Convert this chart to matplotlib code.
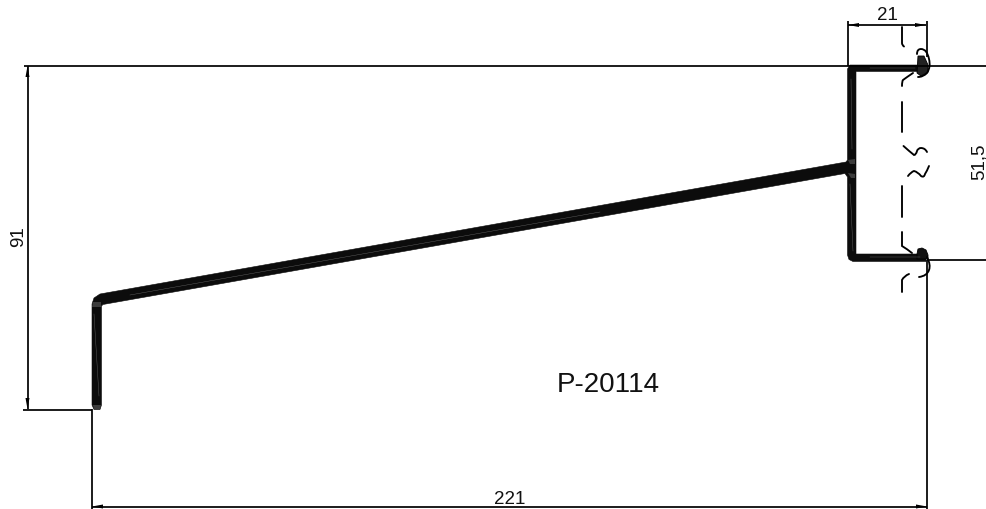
import matplotlib
matplotlib.use('Agg')
import matplotlib.pyplot as pl
from matplotlib.patches import PathPatch, Polygon
from matplotlib.path import Path

pl.rcParams['font.family'] = ['Liberation Sans', 'DejaVu Sans']

extension_lines = [
    ((24, 66.5), (987, 66.5)),
    ((23, 410.5), (92, 410.5)),
    ((91.5, 410), (91.5, 510)),
    ((927, 261), (987, 261)),
    ((927, 261), (927, 510)),
    ((847.5, 22), (847.5, 67)),
    ((926.5, 22), (926.5, 58)),
]
dimension_lines = [
    ((27.5, 67), (27.5, 410)),
    ((92, 507.5), (927, 507.5)),
    ((848, 26), (926, 26)),
]
labels = ['91', '51,5', '21', '221', 'P-20114']
label_x = [18.5, 979, 887, 510, 608]
label_y = [237, 162, 16, 499.5, 385.5]
label_size = [13.5, 13.5, 13.5, 13.5, 20]
label_rot = [90, 90, 0, 0, 0]

profile_outline = [
    (92, 406), (92, 305), (94, 299), (100, 295), (846, 163), (847.5, 161),
    (847.5, 70), (850, 66), (920, 66), (920, 72.5), (856, 72.5), (856, 160),
    (856, 178), (856, 255), (926, 255), (926, 262.5), (853, 262.5), (849, 260.5),
    (847.5, 256), (847.5, 178), (845, 174.5), (103, 305.5), (101.5, 307),
    (101.5, 406), (100, 410.5), (94, 410.5),
]
highlights = [
    [(94, 315), (99, 397)],
    [(850, 185), (853, 252)],
    [(851, 80), (852, 150)],
    [(130, 296), (600, 213)],
    [(870, 69), (915, 69)],
    [(870, 258), (920, 258)],
]
grey_patches = [
    [(93, 303), (101, 303), (101, 308), (92, 308)],
    [(93, 406), (101, 406), (100, 410), (94, 410)],
    [(848, 161), (855, 160), (855, 165), (850, 165)],
    [(848, 174), (855, 175), (855, 179), (851, 179)],
]

break_lines = [
    [(902, 28), (902, 40), (902, 44), (902, 46), (904, 47.5)],
    [(902, 87), (902, 82), (903, 81), (907, 78), (913, 74)],
    [(902, 103), (902, 133)],
    [(903.5, 147), (909, 152), (914, 156), (916, 156), (917, 152), (918, 149), (921, 149), (925, 149), (927, 153)],
    [(908, 177), (911, 173), (914, 172), (918, 173), (921, 177), (924, 179), (925, 175), (927, 172), (929, 167)],
    [(902, 187), (902, 218)],
    [(902, 233), (902, 245), (902, 247), (907, 250), (912, 254)],
    [(909, 275), (904, 277), (902, 281), (902, 286), (902, 293)],
    [(917, 55), (917, 50), (921, 50), (927, 50), (929, 60), (931, 68), (927, 74), (923, 78), (918, 78)],
    [(927, 258), (931, 266), (929, 271), (927, 277), (919, 278)],
]
bulb_top = [(918, 57), (924, 57), (928, 66), (928, 73), (921, 77), (917, 74)]
bulb_bottom = [(917, 255), (918, 250), (922, 249), (926, 251), (928, 256), (928, 260), (917, 260)]


def curve(points):
    # points go start, control, end, control, end ...
    codes = [Path.MOVETO] + [Path.CURVE3] * (len(points) - 1)
    if len(points) == 2:
        codes = [Path.MOVETO, Path.LINETO]
    return Path(points, codes)


def arrow_head(ax, tip, direction, length=11, half_width=2):
    # direction is a unit vector pointing into the dimension line
    dx, dy = direction
    base = (tip[0] + dx * length, tip[1] + dy * length)
    ax.add_patch(Polygon([tip,
                          (base[0] - dy * half_width, base[1] + dx * half_width),
                          (base[0] + dy * half_width, base[1] - dx * half_width)],
                         closed=True, fc='#000000', ec='none'))


fig = pl.figure(figsize=(9.87, 5.10), dpi=100)
ax = fig.add_axes([0, 0, 1, 1])
ax.set_xlim(0, 987)
ax.set_ylim(510, 0)
ax.axis('off')

for start, end in extension_lines:
    ax.plot([start[0], end[0]], [start[1], end[1]], c='#000000', lw=1.25,
            solid_capstyle='butt')

for start, end in dimension_lines:
    ax.plot([start[0], end[0]], [start[1], end[1]], c='#000000', lw=1.25,
            solid_capstyle='butt')
    if start[0] == end[0]:
        arrow_head(ax, start, (0, 1))
        arrow_head(ax, end, (0, -1))
    else:
        arrow_head(ax, start, (1, 0))
        arrow_head(ax, end, (-1, 0))

ax.add_patch(Polygon(profile_outline, closed=True, fc='#0c0c0c', ec='#0c0c0c',
                     lw=0.4, joinstyle='round'))
for patch in grey_patches:
    ax.add_patch(Polygon(patch, closed=True, fc='#3c3c3c', ec='none'))
for line in highlights:
    ax.plot([p[0] for p in line], [p[1] for p in line], c='#666666', lw=0.3)

ax.add_patch(Polygon(bulb_top, closed=True, fc='#222222', ec='#000000', lw=0.6))
ax.add_patch(Polygon(bulb_bottom, closed=True, fc='#111111', ec='#000000', lw=0.6))

for line in break_lines:
    ax.add_patch(PathPatch(curve(line), fc='none', ec='#000000', lw=1.35,
                           capstyle='round'))

for txt, x, y, size, rot in zip(labels, label_x, label_y, label_size, label_rot):
    ax.text(x, y, txt, fontsize=size, rotation=rot, ha='center', va='center',
            color='#111111')

pl.savefig('out.png', dpi=100)
